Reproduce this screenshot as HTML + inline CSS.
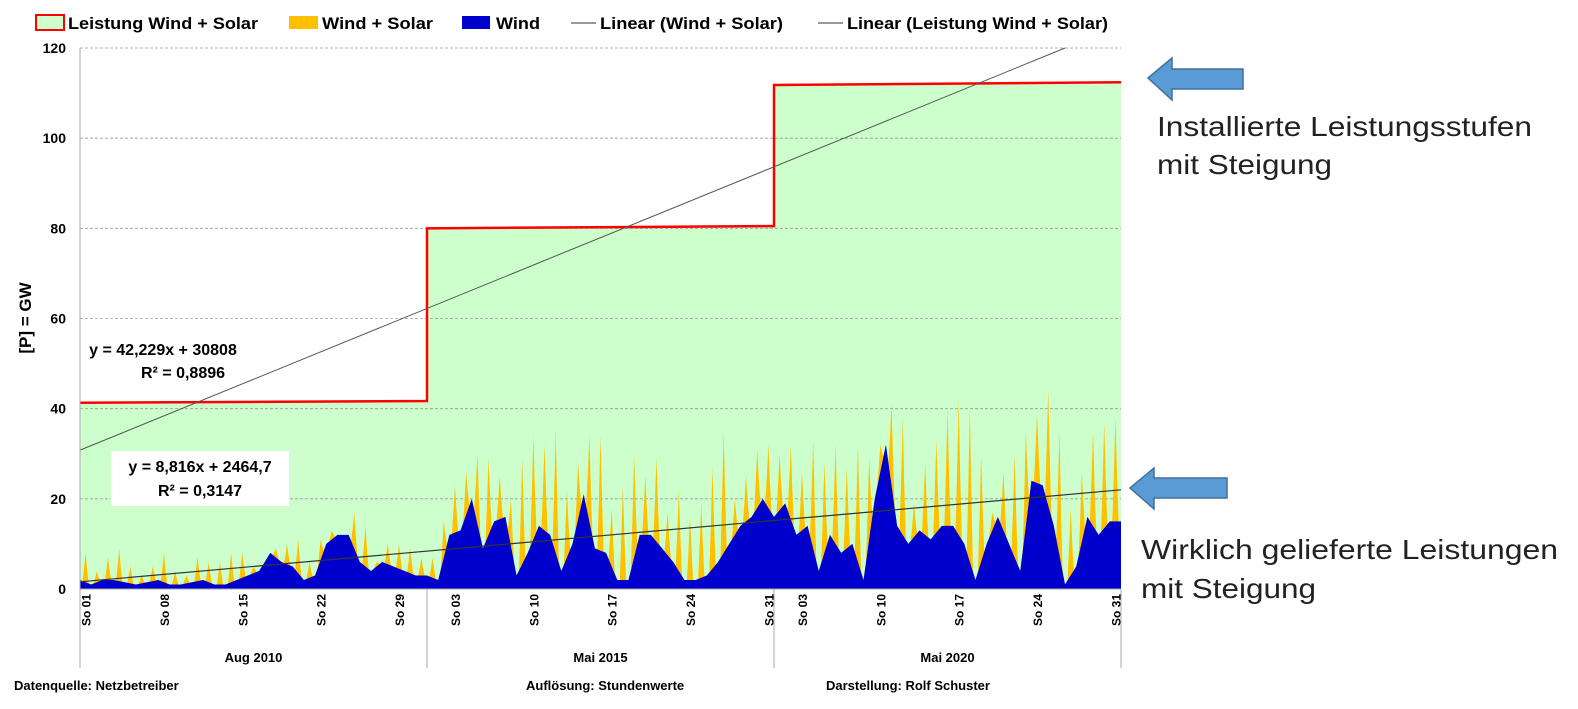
<!DOCTYPE html>
<html><head><meta charset="utf-8">
<style>
body{margin:0;background:#fff;width:1578px;height:709px;overflow:hidden;font-family:"Liberation Sans",Arial,sans-serif}
svg{position:absolute;left:0;top:0}
</style></head>
<body>
<svg id="chart" width="1578" height="709" font-family="Liberation Sans, Arial, sans-serif"></svg>
<script>
// ---- data ----
const periods = ["Aug 2010", "Mai 2015", "Mai 2020"];
const capacityStart = [41.3, 80.0, 111.8];
const capacityEnd = [41.7, 80.5, 112.4];
const peak2010 = [8,4,7,9,5,3,5,8,4,3,7,6,6,8,8,5,5,9,10,11,6,11,13,11,17,14,6,10,10,9,7];
const wind2010 = [2,1,2,2,1.5,1,1.5,2,1,1,1.5,2,1,1,2,3,4,8,6,5,2,3,10,12,12,6,4,6,5,4,3];
const peak2015 = [7,15,23,26,30,29,25,20,29,34,32,35,22,28,34,34,18,23,30,25,29,17,22,16,19,27,35,20,25,31,32];
const wind2015 = [3,2,12,13,20,9,15,16,3,8,14,12,4,10,21,9,8,2,2,12,12,9,6,2,2,3,6,10,14,16,20];
const peak2020 = [30,32,26,33,28,32,27,32,29,32,41,38,19,28,33,40,42,40,30,17,26,30,35,39,44,35,18,26,35,37,38];
const wind2020 = [16,19,12,14,4,12,8,10,2,20,32,14,10,13,11,14,14,10,2,10,16,10,4,24,23,14,1,5,16,12,15];
const trendBig = [30.8, 120];
const trendBigEndDay = 88;
const trendSmall = [1.6, 22];
const yTicks = [0,20,40,60,80,100,120];
const dayTickLabels = [["So 01","So 08","So 15","So 22","So 29"],["So 03","So 10","So 17","So 24","So 31"],["So 03","So 10","So 17","So 24","So 31"]];
const dayTickDays = [[1,8,15,22,29],[3,10,17,24,31],[3,10,17,24,31]];

// ---- axes ----
const X0=80, X1=1121, Y0=589, Y1=48, DAYS=93;
const xs = d => X0 + d*(X1-X0)/DAYS;
const ys = v => Y0 - v*(Y0-Y1)/120;
const svg = document.getElementById('chart');
const NS="http://www.w3.org/2000/svg";
function mk(tag, attrs, parent){const e=document.createElementNS(NS,tag);for(const k in attrs)e.setAttribute(k,attrs[k]);(parent||svg).appendChild(e);return e;}

let capPts=[];
for(let p=0;p<3;p++){capPts.push(xs(p*31)+','+ys(capacityStart[p]));capPts.push(xs(p*31+31)+','+ys(capacityEnd[p]));}
const capArea = mk('polygon',{points:xs(0)+','+Y0+' '+capPts.join(' ')+' '+xs(93)+','+Y0,fill:'#ccffcc'});



yTicks.forEach(v=>{
  if(v>0){const g=mk('line',{x1:X0,x2:X1,y1:ys(v),y2:ys(v),stroke:'#999','stroke-dasharray':'3,2','stroke-width':0.8});
  
  }
  const t=mk('text',{x:66,y:ys(v)+5,'text-anchor':'end','font-size':14,'font-weight':'bold',fill:'#000'});t.textContent=v;
  
  
});

const peaks=[].concat(peak2010,peak2015,peak2020);
const winds=[].concat(wind2010,wind2015,wind2020);
let solarPts=[xs(0)+','+Y0], windPts=[xs(0)+','+Y0];
for(let d=0;d<DAYS;d++){
  const w=winds[d], wn=d<DAYS-1?winds[d+1]:w;
  const wAt=f=>w+(wn-w)*f;
  const pk=peaks[d];
  solarPts.push(xs(d)+','+ys(wAt(0)));
  solarPts.push(xs(d+0.22)+','+ys(wAt(0.22)));
  solarPts.push(xs(d+0.36)+','+ys(wAt(0.36)+(pk-wAt(0.5))*0.45));
  solarPts.push(xs(d+0.5)+','+ys(pk));
  solarPts.push(xs(d+0.64)+','+ys(wAt(0.64)+(pk-wAt(0.5))*0.45));
  solarPts.push(xs(d+0.78)+','+ys(wAt(0.78)));
  windPts.push(xs(d)+','+ys(w));
  windPts.push(xs(d+0.5)+','+ys(wAt(0.5)));
}
solarPts.push(xs(DAYS)+','+ys(winds[DAYS-1]));solarPts.push(xs(DAYS)+','+Y0);
windPts.push(xs(DAYS)+','+ys(winds[DAYS-1]));windPts.push(xs(DAYS)+','+Y0);
const sa=mk('polygon',{points:solarPts.join(' '),fill:'#ffc000'});


const wa=mk('polygon',{points:windPts.join(' '),fill:'#0000cc'});



const capLine=mk('polyline',{points:capPts.join(' '),fill:'none',stroke:'#ff0000','stroke-width':2.5});



const tb=mk('line',{x1:xs(0),y1:ys(trendBig[0]),x2:xs(trendBigEndDay),y2:ys(trendBig[1]),stroke:'#555','stroke-width':1});


const ts=mk('line',{x1:xs(0),y1:ys(trendSmall[0]),x2:xs(DAYS),y2:ys(trendSmall[1]),stroke:'#333','stroke-width':1.2});



mk('line',{x1:X0,y1:Y1,x2:X0,y2:668,stroke:'#aaa','stroke-width':1});
mk('line',{x1:X0,y1:Y0,x2:X1,y2:Y0,stroke:'#aaa','stroke-width':1});
[1,2,3].forEach(p=>mk('line',{x1:xs(p*31),y1:Y0,x2:xs(p*31),y2:668,stroke:'#aaa','stroke-width':1}));

for(let p=0;p<3;p++){
  dayTickDays[p].forEach((d,i)=>{
    const x=xs(p*31+d-0.5);
    const t=mk('text',{x:0,y:0,transform:`translate(${x+5},594) rotate(-90)`,'text-anchor':'end','font-size':12,'font-weight':'bold'});
    t.textContent=dayTickLabels[p][i];
    
    
  });
  const g=mk('text',{x:xs(p*31+15.5),y:662,'text-anchor':'middle','font-size':13,'font-weight':'bold'});
  g.textContent=periods[p];
  
  
}
</script>
<svg width="1578" height="709" font-family="Liberation Sans, Arial, sans-serif">
  <g font-size="17" font-weight="bold">
    <rect x="36" y="15" width="28" height="15" fill="#ccffcc" stroke="#ff0000" stroke-width="2"/>
    <text x="68" y="29" textLength="190" lengthAdjust="spacingAndGlyphs">Leistung Wind + Solar</text>
    <rect x="289" y="16" width="29" height="13" fill="#ffc000"/>
    <text x="322" y="29" textLength="111" lengthAdjust="spacingAndGlyphs">Wind + Solar</text>
    <rect x="462" y="16" width="28" height="13" fill="#0000cc"/>
    <text x="496" y="29" textLength="44" lengthAdjust="spacingAndGlyphs">Wind</text>
    <line x1="571" y1="23" x2="596" y2="23" stroke="#777" stroke-width="1.5"/>
    <text x="600" y="29" textLength="183" lengthAdjust="spacingAndGlyphs">Linear (Wind + Solar)</text>
    <line x1="818" y1="23" x2="843" y2="23" stroke="#777" stroke-width="1.5"/>
    <text x="847" y="29" textLength="261" lengthAdjust="spacingAndGlyphs">Linear (Leistung Wind + Solar)</text>
  </g>
  <text transform="translate(31,318) rotate(-90)" text-anchor="middle" font-size="17" font-weight="bold">[P]  =  GW</text>
  <g font-size="16" font-weight="bold" text-anchor="middle">
    <text x="163" y="355">y = 42,229x + 30808</text>
    <text x="183" y="378">R² = 0,8896</text>
  </g>
  <rect x="111" y="451" width="178" height="55" fill="#fff"/>
  <g font-size="16" font-weight="bold" text-anchor="middle">
    <text x="200" y="472">y = 8,816x + 2464,7</text>
    <text x="200" y="496">R² = 0,3147</text>
  </g>
  <g font-size="13" font-weight="bold">
    <text x="14" y="690">Datenquelle: Netzbetreiber</text>
    <text x="526" y="690">Auflösung: Stundenwerte</text>
    <text x="826" y="690">Darstellung:  Rolf Schuster</text>
  </g>
  <path d="M1148 78 L1172 58 L1172 69 L1243 69 L1243 89 L1172 89 L1172 100 Z" fill="#5b9bd5" stroke="#41719c" stroke-width="1.5"/>
  <path d="M1130 488 L1154 468 L1154 478 L1227 478 L1227 498 L1154 498 L1154 509 Z" fill="#5b9bd5" stroke="#41719c" stroke-width="1.5"/>
  <g font-size="28" fill="#222">
    <text x="1157" y="136" textLength="375" lengthAdjust="spacingAndGlyphs">Installierte Leistungsstufen</text>
    <text x="1157" y="174" textLength="175" lengthAdjust="spacingAndGlyphs">mit Steigung</text>
  </g>
  <g font-size="28" fill="#222">
    <text x="1141" y="559" textLength="417" lengthAdjust="spacingAndGlyphs">Wirklich gelieferte Leistungen</text>
    <text x="1141" y="598" textLength="175" lengthAdjust="spacingAndGlyphs">mit Steigung</text>
  </g>
</svg>
</body></html>
